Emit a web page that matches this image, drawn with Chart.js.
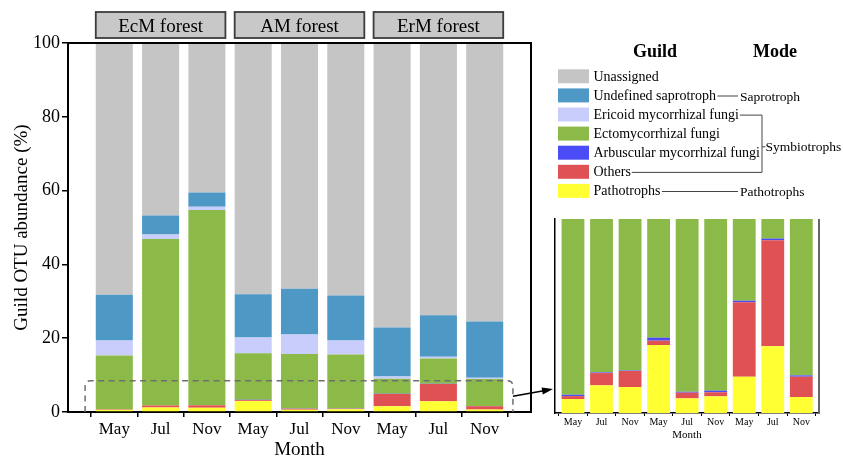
<!DOCTYPE html>
<html>
<head>
<meta charset="utf-8">
<script src="https://cdn.jsdelivr.net/npm/chart.js@4.4.1/dist/chart.umd.min.js"></script>
<style>
  html, body { margin: 0; padding: 0; background: #fff; }
  #wrap { position: relative; width: 843px; height: 459px; overflow: hidden; }
  #main { position: absolute; left: 0; top: 0; }
  #inset { position: absolute; left: 540px; top: 200px; }
</style>
</head>
<body>
<div id="wrap">
  <canvas id="main" width="843" height="459"></canvas>
  <canvas id="inset" width="303" height="259"></canvas>
</div>
<script>
// Sampling months and forest types
const months = ['May', 'Jul', 'Nov', 'May', 'Jul', 'Nov', 'May', 'Jul', 'Nov'];
const forests = ['EcM forest', 'AM forest', 'ErM forest'];
const yTicks = [0, 20, 40, 60, 80, 100];

// Guild OTU abundance (%) per sample, stacked bottom to top
const pathotrophs     = [0.61, 1.21, 1.14, 2.98, 0.64, 0.73, 1.59, 2.92, 0.70];
const others          = [0.13, 0.54, 0.70, 0.19, 0.25, 0.18, 3.26, 4.65, 0.89];
const arbuscular      = [0.06, 0.03, 0.02, 0.13, 0.04, 0.07, 0.07, 0.07, 0.06];
const ectomycorrhizal = [14.5, 45.1, 52.85, 12.6, 14.77, 14.6, 4.08, 6.86, 7.3];
const ericoid         = [4.05, 1.2, 0.9, 4.3, 5.3, 3.8, 0.6, 0.5, 0.35];
const saprotroph      = [12.45, 5.2, 3.9, 11.7, 12.4, 12.2, 13.3, 11.2, 15.2];
const unassigned      = [68.2, 46.7, 40.5, 68.1, 66.6, 68.4, 77.1, 73.8, 75.5];

// Trophic modes and the legend rows (top = 0) they group
const modes = [
  { text: 'Saprotroph', rows: [1] },
  { text: 'Symbiotrophs', rows: [2, 5] },
  { text: 'Pathotrophs', rows: [6] }
];

// Upper limit of the zoomed-in lower section
const zoomMax = 8.5;

const series = [
  { label: 'Pathotrophs', data: pathotrophs, color: '#ffff33' },
  { label: 'Others', data: others, color: '#df5153' },
  { label: 'Arbuscular mycorrhizal fungi', data: arbuscular, color: '#4b4bf8' },
  { label: 'Ectomycorrhizal fungi', data: ectomycorrhizal, color: '#8cba49' },
  { label: 'Ericoid mycorrhizal fungi', data: ericoid, color: '#c9cdfc' },
  { label: 'Undefined saprotroph', data: saprotroph, color: '#4e98c6' },
  { label: 'Unassigned', data: unassigned, color: '#c5c5c5' }
];

const SERIF = '"Liberation Serif", "Times New Roman", serif';
Chart.defaults.font.family = SERIF;
Chart.defaults.color = '#000';
Chart.defaults.animation = false;

function makeDatasets() {
  return series.map(s => ({
    label: s.label,
    data: s.data.map((v, i) => ({ x: i, y: v })),
    backgroundColor: s.color,
    borderWidth: 0,
    barPercentage: 0.8,
    categoryPercentage: 1
  }));
}

function monthTicks(scale) {
  scale.ticks = months.map((m, i) => ({ value: i }));
}

// Frame, forest strips, zoom box, arrow and legend of the main panel
const mainDecor = {
  id: 'mainDecor',
  afterDraw(chart) {
    const { ctx, chartArea: a, scales: { x, y } } = chart;
    ctx.save();

    // top and right frame lines
    ctx.strokeStyle = '#000';
    ctx.lineWidth = 2;
    ctx.beginPath();
    ctx.moveTo(a.left - 1, a.top);
    ctx.lineTo(a.right, a.top);
    ctx.lineTo(a.right, a.bottom + 1);
    ctx.stroke();

    // forest strip labels
    const half = (x.getPixelForValue(1) - x.getPixelForValue(0)) * 0.4;
    forests.forEach((name, g) => {
      const l = x.getPixelForValue(g * 3) - half;
      const r = x.getPixelForValue(g * 3 + 2) + half;
      ctx.fillStyle = '#c8c8c8';
      ctx.fillRect(l, 12, r - l, 26);
      ctx.strokeStyle = '#3c3c3c';
      ctx.lineWidth = 1.8;
      ctx.strokeRect(l, 12, r - l, 26);
      ctx.fillStyle = '#000';
      ctx.font = '19px ' + SERIF;
      ctx.textAlign = 'center';
      ctx.textBaseline = 'alphabetic';
      ctx.fillText(name, (l + r) / 2, 32.3);
    });

    // dashed box around the zoomed section
    const bx0 = x.getPixelForValue(-0.63);
    const bx1 = x.getPixelForValue(8.61);
    const by0 = y.getPixelForValue(zoomMax);
    const by1 = y.getPixelForValue(0);
    const rad = 5;
    ctx.strokeStyle = '#6e6e6e';
    ctx.lineWidth = 1.5;
    ctx.setLineDash([6, 4.5]);
    ctx.beginPath();
    ctx.moveTo(bx0, by1);
    ctx.lineTo(bx0, by0 + rad);
    ctx.arcTo(bx0, by0, bx0 + rad, by0, rad);
    ctx.lineTo(bx1 - rad, by0);
    ctx.arcTo(bx1, by0, bx1, by0 + rad, rad);
    ctx.lineTo(bx1, by1);
    ctx.stroke();
    ctx.setLineDash([]);

    // arrow to the zoomed panel
    const ax0 = bx1, ay0 = y.getPixelForValue(zoomMax / 2);
    const ax1 = 553, ay1 = 389;
    const ang = Math.atan2(ay1 - ay0, ax1 - ax0);
    ctx.strokeStyle = '#000';
    ctx.fillStyle = '#000';
    ctx.lineWidth = 1.6;
    ctx.beginPath();
    ctx.moveTo(ax0, ay0);
    ctx.lineTo(ax1 - 8 * Math.cos(ang), ay1 - 8 * Math.sin(ang));
    ctx.stroke();
    ctx.beginPath();
    ctx.moveTo(ax1, ay1);
    ctx.lineTo(ax1 - 11 * Math.cos(ang) + 3.5 * Math.sin(ang), ay1 - 11 * Math.sin(ang) - 3.5 * Math.cos(ang));
    ctx.lineTo(ax1 - 11 * Math.cos(ang) - 3.5 * Math.sin(ang), ay1 - 11 * Math.sin(ang) + 3.5 * Math.cos(ang));
    ctx.closePath();
    ctx.fill();

    // legend: guild swatches and trophic modes
    ctx.fillStyle = '#000';
    ctx.font = 'bold 18px ' + SERIF;
    ctx.textAlign = 'center';
    ctx.fillText('Guild', 655, 56.7);
    ctx.fillText('Mode', 775, 56.7);

    const items = chart.data.datasets.slice().reverse();
    const top0 = 69.3, rowH = 19.1;
    const textX = 593.5;
    const ends = [], mids = [], bases = [];
    ctx.font = '14px ' + SERIF;
    ctx.textAlign = 'left';
    items.forEach((d, i) => {
      const t = top0 + i * rowH;
      ctx.fillStyle = d.backgroundColor;
      ctx.fillRect(558, t, 31, 14);
      ctx.fillStyle = '#000';
      ctx.fillText(d.label, textX, t + 11.4);
      ends.push(textX + ctx.measureText(d.label).width);
      bases.push(t + 11.4);
      mids.push(t + 7.6);
    });

    ctx.strokeStyle = '#444';
    ctx.lineWidth = 1;
    modes.forEach(m => {
      ctx.font = '13.5px ' + SERIF;
      if (m.rows.length === 1) {
        const r = m.rows[0];
        ctx.beginPath();
        ctx.moveTo(ends[r] + 1.5, mids[r]);
        ctx.lineTo(738, mids[r]);
        ctx.stroke();
        ctx.fillText(m.text, 740, bases[r] + 0.8);
      } else {
        const bx = 762;
        const r0 = m.rows[0], r1 = m.rows[m.rows.length - 1];
        ctx.beginPath();
        m.rows.forEach(r => {
          ctx.moveTo(ends[r] + 1, mids[r]);
          ctx.lineTo(bx, mids[r]);
        });
        ctx.moveTo(bx, mids[r0]);
        ctx.lineTo(bx, mids[r1]);
        const sy = (mids[r0] + mids[r1]) / 2 + 3;
        ctx.moveTo(bx, sy);
        ctx.lineTo(bx + 3.5, sy);
        ctx.stroke();
        ctx.fillText(m.text, bx + 3.5, sy + 4.2);
      }
    });

    ctx.restore();
  }
};

new Chart(document.getElementById('main'), {
  type: 'bar',
  data: { datasets: makeDatasets() },
  options: {
    responsive: false,
    layout: { padding: { top: 43, right: 312, left: 0, bottom: 0 } },
    plugins: { legend: { display: false }, tooltip: { enabled: false } },
    scales: {
      x: {
        type: 'linear', min: -1, max: 9, stacked: true, offset: false,
        afterBuildTicks: monthTicks,
        afterFit: s => { s.height = 47; },
        ticks: {
          callback: v => months[v],
          font: { size: 17 }, color: '#000', padding: 2,
          autoSkip: false, maxRotation: 0
        },
        grid: { offset: true, drawOnChartArea: false, tickLength: 5, color: '#000', lineWidth: 1.5 },
        border: { color: '#000', width: 2 },
        title: { display: true, text: 'Month', font: { size: 19, lineHeight: 0.9 }, padding: { top: 0, bottom: 0 } }
      },
      y: {
        min: 0, max: 100, stacked: true,
        afterBuildTicks: s => { s.ticks = yTicks.map(v => ({ value: v })); },
        afterFit: s => { s.width = 68; },
        ticks: { font: { size: 18 }, color: '#000', padding: 2 },
        grid: { drawOnChartArea: false, tickLength: 6, color: '#000', lineWidth: 1.5 },
        border: { color: '#000', width: 2 },
        title: { display: true, text: 'Guild OTU abundance (%)', font: { size: 19 }, padding: { top: 11, bottom: 0 } }
      }
    }
  },
  plugins: [mainDecor]
});

// Right edge of the zoomed panel
const insetFrame = {
  id: 'insetFrame',
  afterDraw(chart) {
    const { ctx, chartArea: a } = chart;
    ctx.save();
    ctx.strokeStyle = '#666';
    ctx.lineWidth = 2;
    ctx.beginPath();
    ctx.moveTo(a.right, a.top);
    ctx.lineTo(a.right, a.bottom + 1);
    ctx.stroke();
    ctx.restore();
  }
};

new Chart(document.getElementById('inset'), {
  type: 'bar',
  data: { datasets: makeDatasets() },
  options: {
    responsive: false,
    layout: { padding: { top: 19, right: 24, left: 0, bottom: 0 } },
    plugins: { legend: { display: false }, tooltip: { enabled: false } },
    scales: {
      x: {
        type: 'linear', min: -0.63, max: 8.62, stacked: true, offset: false,
        afterBuildTicks: monthTicks,
        afterFit: s => { s.height = 46; },
        ticks: {
          callback: v => months[v],
          font: { size: 10 }, color: '#000', padding: 0,
          autoSkip: false, maxRotation: 0
        },
        grid: { offset: true, drawOnChartArea: false, tickLength: 3, color: '#000', lineWidth: 1 },
        border: { color: '#000', width: 1.5 },
        title: { display: true, text: 'Month', font: { size: 11 }, padding: { top: 0, bottom: 17 } }
      },
      y: {
        min: 0, max: zoomMax, stacked: true,
        afterFit: s => { s.width = 15; },
        ticks: { display: false },
        grid: { display: false },
        border: { display: true, color: '#000', width: 1.5 }
      }
    }
  },
  plugins: [insetFrame]
});
</script>
</body>
</html>
